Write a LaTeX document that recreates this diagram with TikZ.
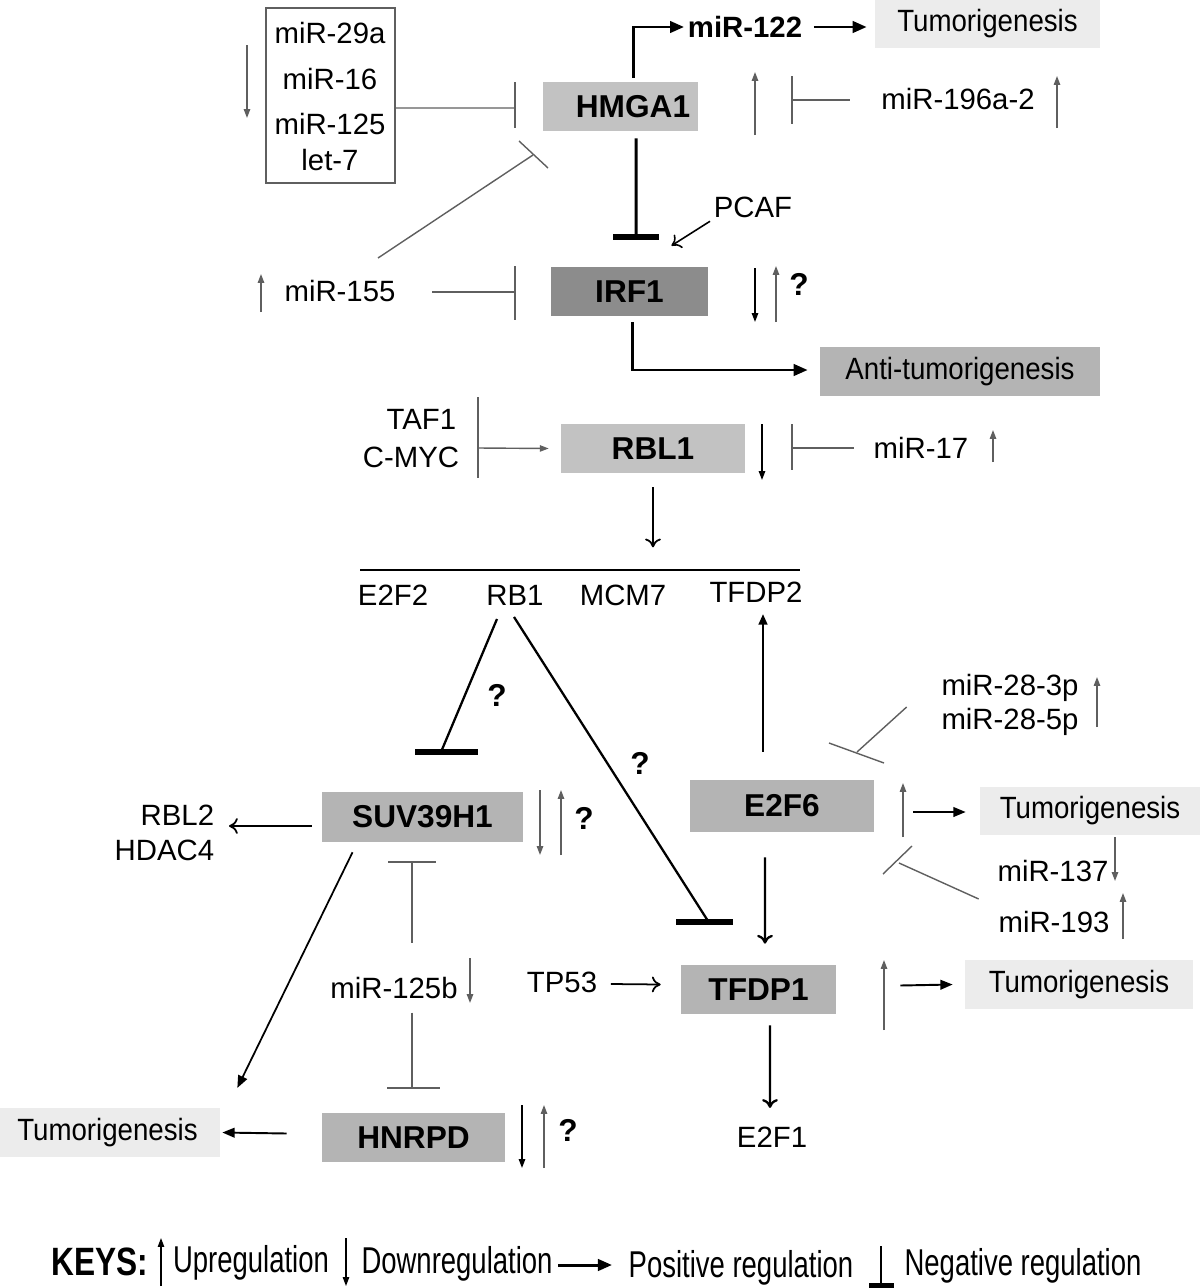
\documentclass[tikz,border=0pt]{standalone}
\usepackage{fontspec}
\usepackage{graphicx}
\setmainfont{Liberation Sans}
\usetikzlibrary{arrows.meta,calc}
\definecolor{gLight}{RGB}{194,194,194}
\definecolor{gDark}{RGB}{140,140,140}
\definecolor{gMid}{RGB}{180,180,180}
\definecolor{gPale}{RGB}{236,236,236}
\definecolor{lineG}{RGB}{95,95,95}
\newcommand\nfs{\fontsize{16.7}{19.5}\selectfont}
\newcommand\bfs{\fontsize{18}{21}\selectfont\bfseries}
\newcommand\tumtxt{\scalebox{0.9}[1]{\fontsize{17.5}{20}\selectfont Tumorigenesis}}
\newcommand\keytxt[1]{\scalebox{0.92}[1.25]{\fontsize{17}{20}\selectfont #1}}
\begin{document}
\begin{tikzpicture}[x=0.02cm,y=-0.02cm,
  gene/.style={rectangle, inner sep=0pt, minimum height=0.98cm, font=\bfs},
  tum/.style={rectangle, fill=gPale, inner sep=0pt, minimum height=0.97cm},
  lbl/.style={inner sep=2pt, font=\nfs},
  qm/.style={inner sep=0pt, font=\bfs},
  ind/.style={draw=lineG, line width=0.8pt, -{Triangle[length=5pt,width=3.6pt]}},
  indk/.style={draw=black, line width=0.8pt, -{Triangle[length=5pt,width=3.6pt]}},
  inhG/.style={draw=lineG, line width=0.8pt},
  inhK/.style={draw=black, line width=1.3pt},
  barK/.style={draw=black, line width=3pt},
  posK/.style={draw=black, line width=1.7pt, -{Triangle[length=8pt,width=6.5pt]}},
  posM/.style={draw=black, line width=1.1pt, -{Triangle[length=7pt,width=5.5pt]}},
  posT/.style={draw=black, line width=1pt, -{To[length=5pt,width=9pt]}}
]
\useasboundingbox (0,0) rectangle (1200,1288);

% ---------- nodes: genes ----------
\node[gene, fill=gLight, minimum width=3.1cm] (hmga) at (620.5,106.5) {\hspace*{0.5cm}HMGA1};
\node[gene, fill=gDark, minimum width=3.14cm] (irf) at (629.5,291.5) {IRF1};
\node[gene, fill=gLight, minimum width=3.68cm] (rbl) at (653,448.5) {RBL1};
\node[gene, fill=gMid, minimum width=4.02cm, minimum height=1.0cm] (suv) at (422.5,817) {SUV39H1};
\node[gene, fill=gMid, minimum width=3.68cm, minimum height=1.04cm] (e2f6) at (782,806) {E2F6};
\node[gene, fill=gMid, minimum width=3.1cm] (tfdp1) at (758.5,989.5) {TFDP1};
\node[gene, fill=gMid, minimum width=3.66cm] (hnrpd) at (413.5,1137.5) {HNRPD};

% ---------- outcome boxes ----------
\node[tum, minimum width=4.5cm, minimum height=0.96cm] (tumA) at (987.5,24) {\tumtxt};
\node[tum, fill=gMid, minimum width=5.6cm] (anti) at (960,371.5) {\scalebox{0.9}[1]{\fontsize{17.5}{20}\selectfont Anti-tumorigenesis}};
\node[tum, minimum width=4.4cm, minimum height=0.96cm] (tumB) at (1090,811) {\tumtxt};
\node[tum, minimum width=4.56cm] (tumC) at (1079,984.5) {\tumtxt};
\node[tum, minimum width=4.4cm] (tumD) at (110,1132.5) {\hspace*{-0.1cm}\tumtxt};

% ---------- miRNA box ----------
\node[draw=lineG, line width=0.8pt, minimum width=2.58cm, minimum height=3.5cm, inner sep=0pt] (mirbox) at (330.5,95.5) {};
\node[lbl] (m29) at (330,33) {miR-29a};
\node[lbl] (m16) at (330,79) {miR-16};
\node[lbl] (m125) at (330,124) {miR-125};
\node[lbl] (let7) at (330,160) {let-7};

% ---------- labels ----------
\node[lbl, font=\nfs\bfseries] (m122) at (745,27) {miR-122};
\node[lbl] (m196) at (958,99) {miR-196a-2};
\node[lbl] (pcaf) at (753,207) {PCAF};
\node[lbl] (m155) at (340,291) {miR-155};
\node[lbl, anchor=east] (taf) at (460,419) {TAF1};
\node[lbl, anchor=east] (cmyc) at (463,457) {C-MYC};
\node[lbl] (m17) at (921,448) {miR-17};
\node[lbl] (e2f2) at (393,595) {E2F2};
\node[lbl] (rb1) at (515,595) {RB1};
\node[lbl] (mcm7) at (623,595) {MCM7};
\node[lbl] (tfdp2) at (756,592) {TFDP2};
\node[lbl] (m283) at (1010,688) {miR-28-3p};
\node[lbl] (m285) at (1010,722) {miR-28-5p};
\node[lbl] (m137) at (1053,871) {miR-137};
\node[lbl] (m193) at (1054,922) {miR-193};
\node[lbl, anchor=east] (rbl2) at (218,815) {RBL2};
\node[lbl, anchor=east] (hdac4) at (218,850) {HDAC4};
\node[lbl] (m125b) at (394,988) {miR-125b};
\node[lbl] (tp53) at (562,982) {TP53};
\node[lbl] (e2f1) at (772,1137) {E2F1};

% question marks
\node[qm] (q1) at (799,284) {?};
\node[qm] (q2) at (497,695) {?};
\node[qm] (q3) at (640,763) {?};
\node[qm] (q4) at (584,818) {?};
\node[qm] (q5) at (568,1130) {?};

% ---------- coordinates ----------
\coordinate (cA1) at (515,108);
\coordinate (cA2) at (792,100);
\coordinate (cA3) at (533,155);
\coordinate (cA4) at (515,292);
\coordinate (cH1) at (636,237);
\coordinate (cT1) at (478,448);
\coordinate (cR1) at (792,448);
\coordinate (cL1) at (360,570);
\coordinate (cL2) at (800,570);
\coordinate (cS1) at (441,752);
\coordinate (cT2) at (708,921);
\coordinate (cE1) at (857,752);
\coordinate (cE2) at (899,863);
\coordinate (cM1) at (412,862);
\coordinate (cM2) at (412,1088);
\coordinate (c155) at (378,258);

% ---------- top part ----------
\draw[ind] (247,45) -- (247,118);
\draw[inhG] ($(mirbox.east)+(0,12.5)$) -- (cA1);
\draw[inhG] (515,82) -- (515,128);

\draw[posK] ($(hmga.north)+(12.5,-4)$) |- (m122.west);
\draw[posK] ($(m122.east)+(8,0)$) -- ($(tumA.west)+(-8,3)$);

\draw[ind] (755,135) -- (755,72);
\draw[inhG] ($(m196.west)+(-28,1)$) -- (cA2);
\draw[inhG] (792,76) -- (792,124);
\draw[ind] (1057,128) -- (1057,76);

\draw[inhK, line width=1.7pt] ($(hmga.south)+(15.5,7)$) -- (cH1);
\draw[barK, line width=3pt] (613,237) -- (659,237);
\draw[posT, line width=0.9pt] (pcaf.south west) -- ($(irf.north)+(42,-21)$);

\draw[inhG] (c155) -- (cA3);
\draw[inhG] (519,141) -- (548,168);
\draw[ind] (261,312) -- (261,274);
\draw[inhG] ($(m155.east)+(33,1)$) -- (cA4);
\draw[inhG] (515,266) -- (515,320);

\draw[indk] (755,268) -- (755,322);
\draw[ind] (776,322) -- (776,266);
\draw[posK] ($(irf.south)+(2.5,6)$) |- ($(anti.west)+(-12,-1.5)$);

% ---------- RBL1 ----------
\draw[inhG] (478,397) -- (478,478);
\draw[ind] (cT1) -- ($(rbl.west)+(-12,0)$);
\draw[indk] (762,424) -- (762,480);
\draw[inhG] ($(m17.west)+(-16,0)$) -- (cR1);
\draw[inhG] (792,424) -- (792,470);
\draw[ind] (993,462) -- (993,430);
\draw[posT] ($(rbl.south)+(0,14)$) -- ($(rbl.south)+(0,74)$);

\draw[line width=1pt] (cL1) -- (cL2);

% ---------- RB1 inhibitions ----------
\draw[inhK] ($(rb1.south)+(-18,10)$) -- (cS1);
\draw[barK] (415,752) -- (478,752);
\draw[inhK] ($(rb1.south)+(-1,8)$) -- (cT2);
\draw[barK] (676,922) -- (733,922);

% ---------- E2F6 ----------
\draw[posM, line width=1.2pt, -{Triangle[length=6pt,width=5pt]}] ($(e2f6.north)+(-19,-28)$) -- ($(tfdp2.south)+(7,8)$);
\draw[ind] (1097,727) -- (1097,677);
\draw[inhG] ($(m285.west)+(-31,-15)$) -- (cE1);
\draw[inhG] (829,743) -- (884,763);
\draw[ind] (903,837) -- (903,783);
\draw[posM] ($(e2f6.east)+(39,6)$) -- ($(tumB.west)+(-14,1)$);
\draw[ind] (1115,837) -- (1115,881);
\draw[ind] (1123,939) -- (1123,893);
\draw[inhG] ($(m193.west)+(-16,-23)$) -- (cE2);
\draw[inhG] (883,874) -- (912,846);
\draw[posT, line width=1.3pt] ($(e2f6.south)+(-17,25)$) -- ($(tfdp1.north)+(6.5,-21)$);

% ---------- SUV39H1 ----------
\draw[ind] (540,790) -- (540,855);
\draw[ind] (561,855) -- (561,790);
\draw[posT] ($(suv.west)+(-10,9)$) -- ($(rbl2.east)+(11,11)$);
\draw[posM, line width=1pt] ($(suv.south)+(-70,10)$) -- ($(tumD.north east)+(17,-20)$);
\draw[inhG] (cM1) -- ($(m125b.north)+(18,-30)$);
\draw[inhG] (388,862) -- (436,862);
\draw[ind] (470,958) -- (470,1003);
\draw[inhG] ($(m125b.south)+(18,10)$) -- (cM2);
\draw[inhG] (387,1088) -- (440,1088);

% ---------- TFDP1 ----------
\draw[posT] ($(tp53.east)+(10,2)$) -- ($(tfdp1.west)+(-20,-5)$);
\draw[ind] (884,1030) -- (884,960);
\draw[posM] ($(tfdp1.east)+(64,-4)$) -- ($(tumC.west)+(-12,0)$);
\draw[posT, line width=1.3pt] ($(tfdp1.south)+(11.5,11)$) -- ($(e2f1.north)+(-2,-15)$);

% ---------- HNRPD ----------
\draw[indk] (522,1105) -- (522,1168);
\draw[ind] (544,1168) -- (544,1105);
\draw[posM] ($(hnrpd.west)+(-35,-4)$) -- ($(tumD.east)+(2,0)$);

% ---------- keys ----------
\node[inner sep=0pt] (keys) at (100,1262) {\scalebox{1}[1.25]{\fontsize{18}{21}\selectfont\bfseries KEYS:}};
\draw[indk, line width=0.7pt] (161,1286) -- (161,1238);
\node[inner sep=0pt] (kup) at (251,1263) {\keytxt{Upregulation}};
\draw[indk, line width=0.7pt] (346,1238) -- (346,1286);
\node[inner sep=0pt] (kdown) at (457,1264) {\keytxt{Downregulation}};
\draw[posK] (558,1265) -- (612,1265);
\node[inner sep=0pt] (kpos) at (741,1268) {\keytxt{Positive regulation}};
\draw[line width=0.8pt] (881,1246) -- (881,1283);
\draw[line width=4pt] (869,1286) -- (894,1286);
\node[inner sep=0pt] (kneg) at (1023,1266) {\keytxt{Negative regulation}};
\end{tikzpicture}
\end{document}
